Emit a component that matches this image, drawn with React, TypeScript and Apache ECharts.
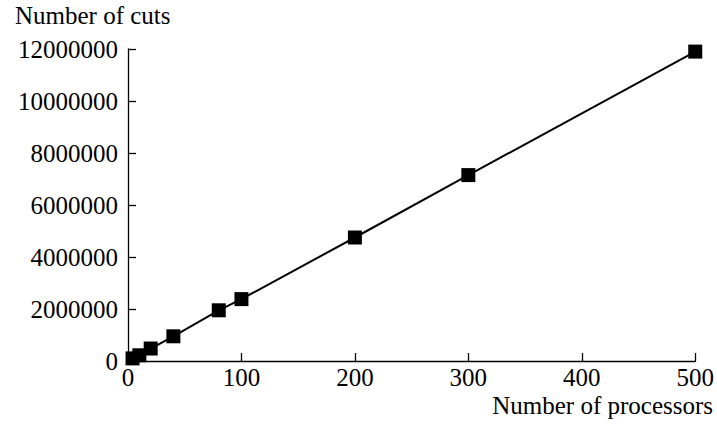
import React, { useEffect, useRef } from "react";
import * as echarts from "echarts";

const processors = [4, 10, 20, 40, 80, 100, 200, 300, 500];
const cuts = [100000, 220000, 480000, 950000, 1950000, 2380000, 4750000, 7150000, 11900000];
const xTicks = [0, 100, 200, 300, 400, 500];
const yTicks = [0, 2000000, 4000000, 6000000, 8000000, 10000000, 12000000];
const xTitle = "Number of processors";
const yTitle = "Number of cuts";

const FONT = "'Liberation Serif', 'Times New Roman', serif";
const FS = 25;

export default function App() {
  const ref = useRef<HTMLDivElement>(null);
  useEffect(() => {
    if (!ref.current) return;
    const chart = echarts.init(ref.current, null, { renderer: "svg" });
    chart.setOption({
      animation: false,
      backgroundColor: "#ffffff",
      grid: { left: 128, right: 19, top: 49, bottom: 67 },
      xAxis: {
        type: "value",
        min: xTicks[0],
        max: xTicks[xTicks.length - 1],
        interval: 100,
        axisLine: { show: true, lineStyle: { color: "#000", width: 1.3 } },
        axisTick: { show: true, inside: true, length: 8, lineStyle: { color: "#000", width: 1.3 } },
        axisLabel: { color: "#000", fontFamily: FONT, fontSize: FS, margin: 4, formatter: (v: number) => String(v) },
        splitLine: { show: false },
      },
      yAxis: {
        type: "value",
        min: yTicks[0],
        max: yTicks[yTicks.length - 1],
        interval: 2000000,
        axisLine: { show: true, lineStyle: { color: "#000", width: 1.3 } },
        axisTick: { show: true, inside: true, length: 8, lineStyle: { color: "#000", width: 1.3 } },
        axisLabel: { color: "#000", fontFamily: FONT, fontSize: FS, margin: 10, formatter: (v: number) => String(v) },
        splitLine: { show: false },
      },
      graphic: [
        {
          type: "text",
          left: 15,
          top: 3,
          style: { text: yTitle, fill: "#000", font: `${FS}px ${FONT}` },
        },
        {
          type: "text",
          right: 4,
          top: 393,
          style: { text: xTitle, fill: "#000", font: `${FS}px ${FONT}` },
        },
      ],
      series: [
        {
          type: "line",
          data: processors.map((p, i) => [p, cuts[i]]),
          symbol: "rect",
          symbolSize: 14,
          showSymbol: true,
          lineStyle: { color: "#000", width: 2 },
          itemStyle: { color: "#000" },
        },
      ],
    });
    return () => chart.dispose();
  }, []);
  return <div ref={ref} style={{ width: 717, height: 428, position: "absolute", left: 0, top: 0 }} />;
}
